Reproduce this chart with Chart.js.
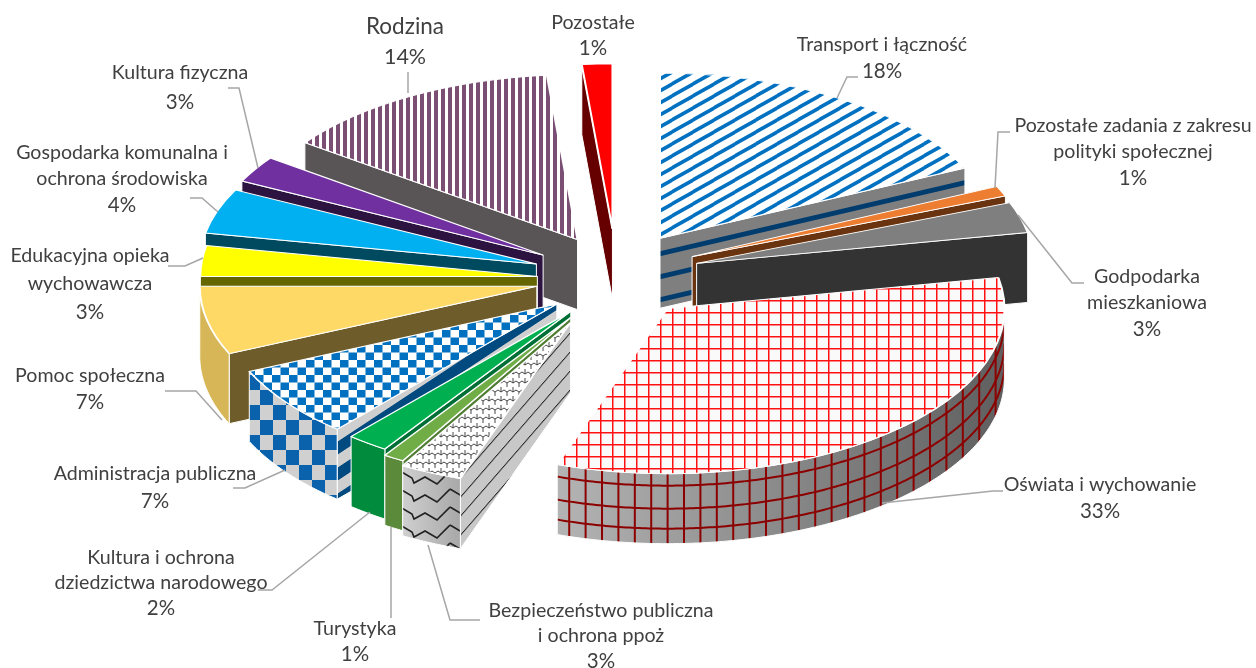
<!DOCTYPE html>
<html>
<head>
<meta charset="utf-8">
<style>
html, body { margin: 0; background: #fff; }
#wrap { width: 1256px; height: 668px; }
canvas { display: block; }
</style>
<script src="https://cdn.jsdelivr.net/npm/chart.js@4/dist/chart.umd.min.js"></script>
</head>
<body>
<div id="wrap"><canvas id="pie" width="1256" height="668"></canvas></div>
<script>
var categories = ['Transport i łączność', 'Pozostałe zadania z zakresu polityki społecznej', 'Godpodarka mieszkaniowa',
    'Oświata i wychowanie', 'Bezpieczeństwo publiczna i ochrona ppoż', 'Turystyka', 'Kultura i ochrona dziedzictwa narodowego',
    'Administracja publiczna', 'Pomoc społeczna', 'Edukacyjna opieka wychowawcza',
    'Gospodarka komunalna i ochrona środowiska', 'Kultura fizyczna', 'Rodzina', 'Pozostałe'];
// labels only give whole percents, decimals read from the slice edges
var values = [18, 1, 3, 33.3, 3, 1, 2, 7, 6.7, 3, 4.4, 2.6, 13.55, 1.45];

// label text broken in lines, one entry per slice
var labelLines = [['Transport i łączność'], ['Pozostałe zadania z zakresu', 'polityki społecznej'], ['Godpodarka', 'mieszkaniowa'],
    ['Oświata i wychowanie'], ['Bezpieczeństwo publiczna', 'i ochrona ppoż'], ['Turystyka'], ['Kultura i ochrona', 'dziedzictwa narodowego'],
    ['Administracja publiczna'], ['Pomoc społeczna'], ['Edukacyjna opieka', 'wychowawcza'],
    ['Gospodarka komunalna i', 'ochrona środowiska'], ['Kultura fizyczna'], ['Rodzina'], ['Pozostałe']];
var labelX = [882, 1133, 1147, 1100, 601, 355, 161, 155, 90, 90, 122, 180, 405, 593];
var labelY = [45, 126, 277, 485, 611, 629, 558, 474, 376, 256, 153, 73, 27, 23];
var labelStep = [26, 26, 26, 26, 25, 25, 25, 27, 26, 28, 26, 29, 30, 25];
var leaders = [
    [[837, 98], [847, 77], [858, 77]],
    [[995, 188], [998, 132], [1010, 132]],
    [[1018, 215], [1072, 283], [1084, 283]],
    [[882, 503], [993, 491], [1003, 491]],
    [[428, 545], [450, 620], [480, 620]],
    [[391, 527], [391, 618]],
    [[370, 512], [272, 590], [258, 590]],
    [[285, 470], [245, 488], [233, 488]],
    [[222, 420], [196, 391], [165, 391]],
    [[203, 258], [185, 266], [168, 266]],
    [[218, 212], [202, 198], [190, 198]],
    [[258, 168], [239, 88], [228, 88]],
    [[408, 93], [408, 72]]
];

var topColors = ['#0070c0', '#ed7d31', '#7f7f7f', '#ff0000', '#333333', '#70ad47', '#00b050',
    '#0070c0', '#ffd966', '#ffff00', '#00b0f0', '#7030a0', '#7a4f73', '#ff0000'];
var cutColors = ['#7f7f7f', '#6b3410', '#333333', '#8c0000', '#c8c8c8', '#4f7d32', '#006f35',
    '#004a80', '#6f5c2b', '#666600', '#004a60', '#2d1340', '#595456', '#660000'];
var rimColors = ['#7f7f7f', '#6b3410', '#333333', '#8c8c8c', '#b8b8b8', '#5a8a3a', '#008c3c',
    '#d0d0d0', '#d6b656', '#8f8f00', '#0080b0', '#4a2070', '#595456', '#660000'];
var explode = [84, 84, 85, 77, 100, 90, 75, 75, 80, 78, 83, 90, 90, 100];
var nudgeX = [0, 0, 0, 2, -3, 3, 1, 2, 0, 0, 0, 5, 7, 2];
var nudgeY = [-7, -7, -5, 0, -2, 0, 2, 2, -2, 0, -3, -2, -2, -2];

var squash = 0.49;
var centerY = 280;
var depth = 70;
var radius = 337;

function tile(w, h, draw) {
    var c = document.createElement('canvas');
    c.width = w;
    c.height = h;
    draw(c.getContext('2d'), w, h);
    return document.getElementById('pie').getContext('2d').createPattern(c, 'repeat');
}

function base(g, w, h, color) {
    g.fillStyle = color;
    g.fillRect(0, 0, w, h);
}

var patterns = {
    stripes: tile(21, 12, function (g, w, h) {
        base(g, w, h, '#fff');
        g.strokeStyle = '#0070c0';
        g.lineWidth = 3.6;
        [-12, 0, 12].forEach(function (o) {
            g.beginPath();
            g.moveTo(-2, h + o + 1);
            g.lineTo(w + 2, o - 1);
            g.stroke();
        });
    }),
    grid: tile(12, 12, function (g, w, h) {
        base(g, w, h, '#fafafa');
        g.fillStyle = '#ff1010';
        g.fillRect(0, 0, w, 1.5);
        g.fillRect(0, 0, 1.5, h);
    }),
    bars: tile(7, 4, function (g, w, h) {
        base(g, w, h, '#fff');
        g.fillStyle = '#7a4f73';
        g.fillRect(0, 0, 4, h);
    }),
    checker: tile(17, 15, function (g, w, h) {
        base(g, w, h, '#fff');
        g.fillStyle = '#0070c0';
        g.fillRect(0, 0, 8.5, 7.5);
        g.fillRect(8.5, 7.5, 8.5, 7.5);
    }),
    bigChecker: tile(26, 30, function (g, w, h) {
        base(g, w, h, '#d0d0d0');
        g.fillStyle = '#0a62ad';
        g.fillRect(0, 0, 13, 15);
        g.fillRect(13, 15, 13, 15);
    }),
    wave: tile(12, 9, function (g, w, h) {
        base(g, w, h, '#fff');
        g.strokeStyle = '#333';
        g.lineWidth = 0.9;
        g.beginPath();
        g.moveTo(0, 3); g.lineTo(3, 5); g.lineTo(6, 3); g.lineTo(9, 5); g.lineTo(12, 3);
        g.moveTo(3, 5); g.lineTo(3, 9);
        g.moveTo(9, 0); g.lineTo(9, 5);
        g.stroke();
    }),
    bigWave: tile(50, 18, function (g, w, h) {
        g.strokeStyle = '#222';
        g.lineWidth = 1.6;
        g.beginPath();
        g.moveTo(0, 3); g.lineTo(12, 10); g.lineTo(14, 15); g.lineTo(25, 9); g.lineTo(37, 16); g.lineTo(50, 3);
        g.stroke();
    }),
    transportBands: tile(8, 23, function (g, w, h) {
        base(g, w, h, '#7f7f7f');
        g.fillStyle = '#003c6e';
        g.fillRect(0, 8, w, 5);
    }),
    safetyLines: tile(8, 19, function (g, w, h) {
        base(g, w, h, '#c8c8c8');
        g.fillStyle = '#222';
        g.fillRect(0, 0, w, 1.4);
    }),
    adminBands: tile(8, 26, function (g, w, h) {
        base(g, w, h, '#004a80');
        g.fillStyle = '#cfcfcf';
        g.fillRect(0, 13, w, 13);
    })
};
patterns.transportBands.setTransform(new DOMMatrix([1, -0.233, 0, 1, 0, 6]));
patterns.safetyLines.setTransform(new DOMMatrix([1, -1.15, 0, 1, 0, 0]));
patterns.adminBands.setTransform(new DOMMatrix([1, -0.66, 0, 1, 0, 14.4]));

// top faces that are hatched instead of a flat colour
var topFill = topColors.slice();
topFill[0] = patterns.stripes;
topFill[3] = patterns.grid;
topFill[4] = patterns.wave;
topFill[7] = patterns.checker;
topFill[12] = patterns.bars;
var cutFill = cutColors.slice();
cutFill[0] = patterns.transportBands;
cutFill[4] = patterns.safetyLines;
cutFill[7] = patterns.adminBands;
var rimFill = rimColors.slice();
rimFill[7] = patterns.bigChecker;

function sliceGeometry(arc, index) {
    var p = arc.getProps(['x', 'y', 'startAngle', 'endAngle', 'outerRadius'], true);
    var mid = (p.startAngle + p.endAngle) / 2;
    var dx = Math.cos(mid) * explode[index] + nudgeX[index];
    var offY = centerY + Math.sin(mid) * explode[index] * squash + nudgeY[index];
    var tx = p.x + dx;
    return {
        start: p.startAngle,
        end: p.endAngle,
        dx: dx,
        offY: offY,
        tipX: tx,
        tipY: offY,
        at: function (a) {
            return [tx + Math.cos(a) * p.outerRadius, offY + Math.sin(a) * p.outerRadius * squash];
        }
    };
}

function drawCut(ctx, g, angle, fill) {
    var e = g.at(angle);
    ctx.beginPath();
    ctx.moveTo(g.tipX, g.tipY);
    ctx.lineTo(e[0], e[1]);
    ctx.lineTo(e[0], e[1] + depth);
    ctx.lineTo(g.tipX, g.tipY + depth);
    ctx.closePath();
    ctx.fillStyle = fill;
    ctx.fill();
    ctx.strokeStyle = '#fff';
    ctx.lineWidth = 1;
    ctx.stroke();
}

function rimPoints(g, a0, a1) {
    var pts = [];
    var n = Math.max(2, Math.ceil((a1 - a0) / 0.01));
    for (var i = 0; i <= n; i++) {
        pts.push(g.at(a0 + (a1 - a0) * i / n));
    }
    return pts;
}

function traceRim(ctx, pts) {
    ctx.beginPath();
    pts.forEach(function (q, i) {
        if (i) ctx.lineTo(q[0], q[1]); else ctx.moveTo(q[0], q[1]);
    });
    for (var i = pts.length - 1; i >= 0; i--) {
        ctx.lineTo(pts[i][0], pts[i][1] + depth);
    }
    ctx.closePath();
}

function drawRim(ctx, g, index) {
    // only the part of the rim facing the viewer shows
    var a0 = Math.max(g.start, 0);
    var a1 = Math.min(g.end, Math.PI);
    if (a1 <= a0) return;
    var pts = rimPoints(g, a0, a1);
    var left = Math.min(pts[0][0], pts[pts.length - 1][0]);
    var right = Math.max(pts[0][0], pts[pts.length - 1][0]);
    traceRim(ctx, pts);
    var fill = rimFill[index];
    if (index === 3 || index === 4) {
        fill = ctx.createLinearGradient(left, 0, right, 0);
        fill.addColorStop(0, index === 3 ? '#b4b4b4' : '#cfcfcf');
        fill.addColorStop(1, index === 3 ? '#5f5f5f' : '#a8a8a8');
    }
    ctx.fillStyle = fill;
    ctx.fill();
    if (index === 4) {
        ctx.fillStyle = patterns.bigWave;
        ctx.fill();
    }
    if (index === 3) {
        ctx.save();
        ctx.clip();
        ctx.strokeStyle = '#8c0000';
        ctx.lineWidth = 2;
        for (var x = left + 12; x < right; x += 16.4) {
            ctx.beginPath();
            ctx.moveTo(x, 0);
            ctx.lineTo(x, 668);
            ctx.stroke();
        }
        [12, 35, 55].forEach(function (o) {
            ctx.beginPath();
            pts.forEach(function (q, i) {
                if (i) ctx.lineTo(q[0], q[1] + o); else ctx.moveTo(q[0], q[1] + o);
            });
            ctx.stroke();
        });
        ctx.restore();
    }
    traceRim(ctx, pts);
    ctx.strokeStyle = '#fff';
    ctx.lineWidth = 1;
    ctx.stroke();
}

var pie3d = {
    id: 'pie3d',
    beforeDatasetDraw: function (chart) {
        var ctx = chart.ctx;
        var arcs = chart.getDatasetMeta(0).data;
        var order = arcs.map(function (arc, i) {
            return { i: i, arc: arc, g: sliceGeometry(arc, i) };
        }).sort(function (a, b) {
            return a.g.tipY - b.g.tipY;
        });
        order.forEach(function (o) {
            var g = o.g;
            if (Math.cos(g.start) < 0) drawCut(ctx, g, g.start, cutFill[o.i]);
            if (Math.cos(g.end) > 0) drawCut(ctx, g, g.end, cutFill[o.i]);
            drawRim(ctx, g, o.i);
        });
        // the library's own arcs, pulled out and squashed to the plane of the pie
        var cy = arcs[0].y;
        order.forEach(function (o) {
            ctx.save();
            ctx.translate(o.g.dx, o.g.offY);
            ctx.scale(1, squash);
            ctx.translate(0, -cy);
            var f = topFill[o.i];
            if (f instanceof CanvasPattern) f.setTransform(ctx.getTransform().inverse());
            o.arc.draw(ctx);
            ctx.restore();
        });
        return false;
    },
    afterDraw: function (chart) {
        var ctx = chart.ctx;
        var total = values.reduce(function (a, b) { return a + b; }, 0);
        ctx.save();
        ctx.strokeStyle = '#a6a6a6';
        ctx.lineWidth = 1.5;
        leaders.forEach(function (line) {
            ctx.beginPath();
            line.forEach(function (q, i) {
                if (i) ctx.lineTo(q[0], q[1]); else ctx.moveTo(q[0], q[1]);
            });
            ctx.stroke();
        });
        ctx.fillStyle = '#404040';
        ctx.textAlign = 'center';
        ctx.textBaseline = 'middle';
        labelLines.forEach(function (lines, i) {
            var y = labelY[i];
            ctx.font = (i === 12 ? 22.5 : 19.6) + 'px Lato';
            lines.forEach(function (text) {
                ctx.fillText(text, labelX[i], y);
                y += labelStep[i];
            });
            ctx.font = (i === 12 ? 21.5 : 20.5) + 'px Lato';
            ctx.fillText(Math.round(values[i] / total * 100) + '%', labelX[i], y);
        });
        ctx.restore();
    }
};

new Chart(document.getElementById('pie'), {
    type: 'pie',
    data: {
        labels: categories,
        datasets: [{
            data: values,
            backgroundColor: topFill,
            borderColor: '#ffffff',
            borderWidth: 2,
            hoverOffset: 0,
            clip: false
        }]
    },
    options: {
        responsive: false,
        animation: false,
        events: [],
        radius: radius,
        layout: { padding: { right: 26 } },
        plugins: { legend: { display: false }, tooltip: { enabled: false }, pie3d: {} }
    },
    plugins: [pie3d]
});
</script>
</body>
</html>
